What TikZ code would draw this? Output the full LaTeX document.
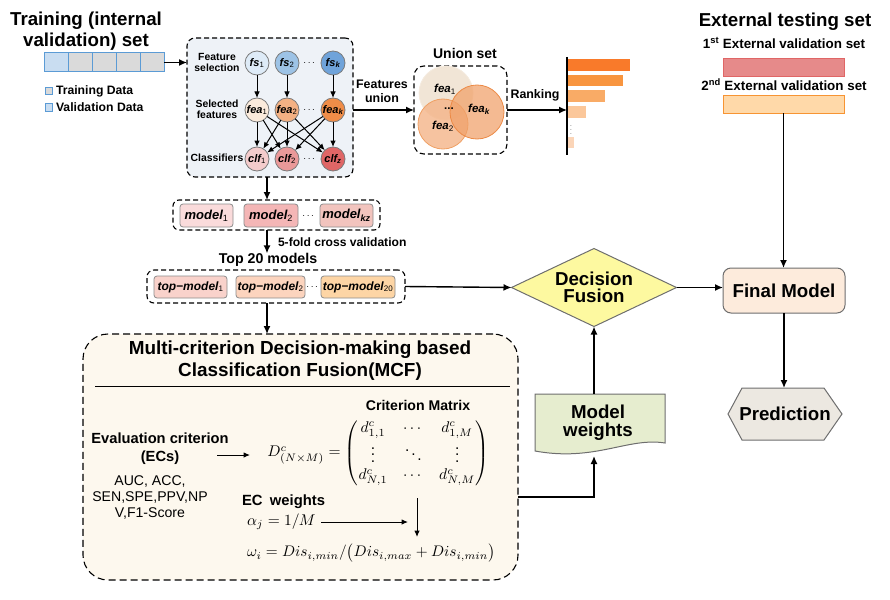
\documentclass[tikz,border=0pt]{standalone}
\usepackage{amsmath}
\usepackage{graphicx}
\usepackage[no-math]{fontspec}
\setmainfont{Liberation Sans}
\usetikzlibrary{arrows.meta,shapes.geometric,calc}
\newcommand{\myfs}[2]{\fontsize{#1}{#2}\selectfont}
\newcommand{\sbn}[1]{\textsubscript{\mdseries\upshape #1}}
\newcommand{\sbl}[1]{\textsubscript{#1}}
\definecolor{dblue}{HTML}{5B9BD5}
\definecolor{vblue}{HTML}{C9DDF1}
\definecolor{cgrayfill}{HTML}{DADADA}
\definecolor{fsfill}{HTML}{EEF2F7}
\definecolor{cgray}{HTML}{7A7A7A}
\definecolor{fsa}{HTML}{DEEBF7}
\definecolor{fsb}{HTML}{9DC3E6}
\definecolor{fsc}{HTML}{6FA3DA}
\definecolor{fea}{HTML}{FBEBDC}
\definecolor{feb}{HTML}{F4B183}
\definecolor{fec}{HTML}{F08D48}
\definecolor{cla}{HTML}{F4CCCC}
\definecolor{clb}{HTML}{EA9999}
\definecolor{clc}{HTML}{E06666}
\definecolor{uac}{HTML}{F1E5D6}
\definecolor{uab}{HTML}{F5EBDF}
\definecolor{ubc}{HTML}{F4B488}
\definecolor{ubb}{HTML}{EFA064}
\definecolor{ukc}{HTML}{F0A068}
\definecolor{ukb}{HTML}{EC8A46}
\definecolor{rba}{HTML}{F97A2A}
\definecolor{rbb}{HTML}{F8953F}
\definecolor{rbc}{HTML}{F9AB66}
\definecolor{rbd}{HTML}{FBC79A}
\definecolor{rbe}{HTML}{FBD5B8}
\definecolor{eac}{HTML}{E68A8A}
\definecolor{eab}{HTML}{E06666}
\definecolor{ebc}{HTML}{FFD9A9}
\definecolor{ebb}{HTML}{F79433}
\definecolor{mgray}{HTML}{8C8C8C}
\definecolor{mac}{HTML}{FADBDB}
\definecolor{mbc}{HTML}{F4B6B6}
\definecolor{mcc}{HTML}{F2C4BE}
\definecolor{tac}{HTML}{F9D2CB}
\definecolor{tbc}{HTML}{FCD4BE}
\definecolor{tcc}{HTML}{FDD5A5}
\definecolor{mcffill}{HTML}{FDF8EE}
\definecolor{mwc}{HTML}{E6EDCF}
\definecolor{dfc}{HTML}{FDF9A0}
\definecolor{fmc}{HTML}{FDEBDC}
\definecolor{prc}{HTML}{ECE8E1}
\definecolor{shgray}{HTML}{6E6E6E}
\begin{document}
\begin{tikzpicture}[x=1pt,y=-1pt,
  every node/.style={inner sep=0pt,outer sep=0pt},
  conn/.style={line width=1.4pt,-{Latex[length=8pt,width=7pt]}},
  thinconn/.style={line width=1pt,-{Latex[length=6.5pt,width=5.5pt]}},
  dbox/.style={draw=black,line width=1.1pt,dash pattern=on 5pt off 3pt,rounded corners=8pt},
  fc/.style={circle,draw=cgray,line width=0.8pt,minimum size=24pt,font=\myfs{11}{12}\bfseries\itshape},
  lblf/.style={font=\myfs{10.4}{10.6}\bfseries,align=center},
  mb/.style={draw=mgray,line width=0.8pt,rounded corners=3pt,font=\myfs{13}{14}\bfseries\itshape},
  tb/.style={draw=mgray,line width=0.8pt,rounded corners=3pt,font=\myfs{12}{13}\bfseries\itshape},
  bigt/.style={font=\myfs{18.7}{21}\bfseries,align=center},
]
\useasboundingbox (0,0) rectangle (890,599);

% ---------- training set ----------
\node[bigt] (ttl) at (86,31) {Training (internal\\validation) set};
\node[draw=dblue,fill=cgrayfill,line width=1pt,minimum width=120,minimum height=19] (data) at (104,62.5) {};
\fill[vblue] (data.north west) rectangle ++(24,19);
\foreach \i in {1,...,4} \draw[dblue,line width=1pt] ($(data.north west)+(24*\i,0)$) -- ++(0,19);
\draw[dblue,line width=1pt] (data.north west) rectangle (data.south east);
\node[draw=dblue,fill=cgrayfill,line width=0.8pt,minimum size=7.5] (lg1) at (49,91) {};
\node[font=\myfs{12.2}{14}\bfseries,anchor=west] (lg1t) at (56,91) {Training Data};
\node[draw=dblue,fill=vblue,line width=0.8pt,minimum size=7.5] (lg2) at (49,107.5) {};
\node[font=\myfs{12.2}{14}\bfseries,anchor=west] (lg2t) at (56,107.5) {Validation Data};

% ---------- feature box ----------
\node[dbox,fill=fsfill,minimum width=166,minimum height=139] (fsbox) at (270,107.5) {};
\draw[conn] (data.east) -- (data.east -| fsbox.west);
\node[lblf] (lfs) at (217,62.5) {Feature\\selection};
\node[lblf] (lfe) at (217,109) {Selected\\features};
\node[lblf] (lcl) at (217,158) {Classifiers};
\node[fc,fill=fsa] (fs1) at (257,63) {fs\sbn{1}};
\node[fc,fill=fsb] (fs2) at (287,63) {fs\sbn{2}};
\node[fc,fill=fsc] (fsk) at (333,63) {fs\sbl{k}};
\node[fc,fill=fea] (fea1) at (257,110) {fea\sbn{1}};
\node[fc,fill=feb] (fea2) at (287,110) {fea\sbn{2}};
\node[fc,fill=fec] (feak) at (333,110) {fea\sbl{k}};
\node[fc,fill=cla] (clf1) at (257,159) {clf\sbn{1}};
\node[fc,fill=clb] (clf2) at (287,159) {clf\sbn{2}};
\node[fc,fill=clc] (clfz) at (333,159) {clf\sbl{z}};
\node (d1) at (310,63) {$\cdots$};
\node (d2) at (310,110) {$\cdots$};
\node (d3) at (310,159) {$\cdots$};
\draw[thinconn] (fs1) -- (fea1);
\draw[thinconn] (fs2) -- (fea2);
\draw[thinconn] (fsk) -- (feak);
\foreach \a in {fea1,fea2,feak} \foreach \b in {clf1,clf2,clfz} \draw[thinconn] (\a) -- (\b);

% ---------- union ----------
\node[font=\myfs{12.4}{14}\bfseries,align=center] (fu) at (382,91) {Features\\union};
\node[font=\myfs{14}{16}\bfseries] (unt) at (465,53) {Union set};
\node[dbox,rounded corners=10pt,minimum width=93,minimum height=88] (union) at (460.5,110) {};
\node[circle,minimum size=54,fill=uac,draw=uab,line width=0.8pt] (u1) at (446,93) {};
\node[circle,minimum size=50,fill=ubc,fill opacity=0.8,draw=ubb,line width=0.8pt] (u2) at (443,124) {};
\node[circle,minimum size=54,fill=ukc,fill opacity=0.72,draw=ukb,line width=0.8pt] (uk) at (477,112) {};
\node[font=\myfs{11.5}{12}\bfseries\itshape] (ul1) at (445,89) {fea\sbn{1}};
\node[font=\myfs{11.5}{12}\bfseries\itshape] (ul2) at (443,126) {fea\sbn{2}};
\node[font=\myfs{11.5}{12}\bfseries\itshape] (ulk) at (479,109) {fea\sbl{k}};
\node[font=\myfs{11.5}{12}\bfseries] (uld) at (449,109) {...};
\draw[conn] (union.west -| fsbox.east) -- (union.west);

% ---------- ranking ----------
\coordinate (axis) at (567,110);
\node[font=\myfs{12.4}{14}\bfseries] (rk) at (535,95) {Ranking};
\draw[conn] (union.east) -- (axis);
\node[anchor=north west,fill=rba,minimum width=63,minimum height=11.5] (rb1) at (567,59.3) {};
\node[anchor=north west,fill=rbb,minimum width=56,minimum height=11.5] (rb2) at (567,75) {};
\node[anchor=north west,fill=rbc,minimum width=38,minimum height=11.5] (rb3) at (567,90.5) {};
\node[anchor=north west,fill=rbd,minimum width=19,minimum height=11.5] (rb4) at (567,106) {};
\node[anchor=north west,fill=rbe,minimum width=7,minimum height=11] (rb5) at (567,137) {};
\node[text=gray,font=\myfs{8}{8}] (rbdots) at (571,127) {$\vdots$};
\draw[line width=1.5pt] (567,57) -- (567,155);

% ---------- external ----------
\node[bigt] (extt) at (785,22) {External testing set};
\node[font=\myfs{13.4}{15}\bfseries] (e1t) at (784,43) {1\textsuperscript{st} External validation set};
\node[draw=eab,fill=eac,line width=1pt,minimum width=121,minimum height=18.4] (ext1) at (783.5,67.5) {};
\node[font=\myfs{13.4}{15}\bfseries] (e2t) at (784,85) {2\textsuperscript{nd} External validation set};
\node[draw=ebb,fill=ebc,line width=1pt,minimum width=121,minimum height=17.6] (ext2) at (783.5,104.5) {};

% ---------- models ----------
\coordinate (spine) at (267,0);
\node[dbox,rounded corners=6pt,minimum width=207,minimum height=30] (mbox) at (276.5,215) {};
\node[mb,fill=mac,minimum width=53,minimum height=23] (m1) at (206.5,215.5) {model\sbn{1}};
\node[mb,fill=mbc,minimum width=54,minimum height=23] (m2) at (271,215.5) {model\sbn{2}};
\node[mb,fill=mcc,minimum width=53,minimum height=23] (mkz) at (346.5,215.5) {model\sbl{kz}};
\node (md) at (309,216) {$\cdots$};
\draw[conn] (spine |- fsbox.south) -- (spine |- mbox.north);
\node[font=\myfs{12.1}{14}\bfseries,anchor=west] (cv) at (278,242.5) {5-fold cross validation};
\node[font=\myfs{14.2}{16}\bfseries] (t20t) at (268,260) {Top 20 models};
\draw[conn] (spine |- mbox.south) -- (spine |- t20t.north);
\node[dbox,rounded corners=7pt,minimum width=258,minimum height=33] (t20box) at (276,286.5) {};
\node[tb,fill=tac,minimum width=73,minimum height=22] (tm1) at (190.5,287) {top−model\sbn{1}};
\node[tb,fill=tbc,minimum width=69,minimum height=22] (tm2) at (270.5,287) {top−model\sbn{2}};
\node[tb,fill=tcc,minimum width=74,minimum height=22] (tm20) at (358,287) {top−model\sbn{20}};
\node (td) at (313,287) {$\cdots$};

% ---------- MCF ----------
\node[draw=black,line width=1.1pt,dash pattern=on 7pt off 4pt,rounded corners=25pt,fill=mcffill,minimum width=435,minimum height=246] (mcf) at (300.5,457) {};
\draw[conn] (spine |- t20box.south) -- (spine |- mcf.north);
\node[font=\myfs{18.9}{22}\bfseries,align=center] (mcft) at (300,361) {Multi-criterion Decision-making based\\Classification Fusion(MCF)};
\draw[line width=1pt] (95,386.7) -- (510,386.7);
\node[font=\myfs{14.1}{16}\bfseries] (cmt) at (418,405) {Criterion Matrix};
\node[font=\myfs{14.7}{18}\bfseries,align=center] (ec) at (160,449) {Evaluation criterion\\(ECs)};
\node (dmat) at (378,453) {\scalebox{1.55}{$\renewcommand{\arraystretch}{0.95}D^{c}_{(N\times M)}=\begin{pmatrix} d^{c}_{1,1} & \cdots & d^{c}_{1,M}\\ \vdots & \ddots & \vdots\\ d^{c}_{N,1} & \cdots & d^{c}_{N,M}\end{pmatrix}$}};
\coordinate (ea1) at (217,455);
\coordinate (ea2) at (250,455);
\draw[thinconn] (ea1) -- (ea2);
\node[font=\myfs{14.1}{16},align=center] (ecl) at (150,497) {AUC, ACC,\\SEN,SPE,PPV,NP\\V,F1-Score};
\node[font=\myfs{14.8}{16}\bfseries,anchor=west] (ecw) at (242,502) {EC\hspace{0.5em}weights};
\node[anchor=west] (alpha) at (247,522) {\scalebox{1.55}{$\alpha_j = 1/M$}};
\coordinate (aend) at (408,522);
\draw[thinconn] ([xshift=6]alpha.east) -- (aend);
\coordinate (dd1) at (417,498);
\coordinate (dd2) at (417,537);
\draw[thinconn] (dd1) -- (dd2);
\node[anchor=west] (omega) at (247,553) {\scalebox{1.53}{$\omega_i = Dis_{i,min}/\bigl(Dis_{i,max}+Dis_{i,min}\bigr)$}};

% ---------- decision / final ----------
\node[diamond,draw=shgray,fill=dfc,line width=1pt,minimum width=165,minimum height=78,aspect=2.1,align=center,font=\myfs{18.7}{17.5}\bfseries] (df) at (594,287.5) {Decision\\Fusion};
\draw[conn] (t20box.east) -- (df.west);
\draw[draw=shgray,fill=mwc,line width=1pt] (535,394) -- (665,394) -- (665,443) .. controls (628,437) and (595,462) .. (535,451) -- cycle;
\node[font=\myfs{18.7}{18}\bfseries,align=center] (mw) at (598,423) {Model\\weights};
\coordinate (mwtop) at (594,394);
\coordinate (mwbot) at (594,456);
\draw[conn] (mwtop) -- (df.south);
\coordinate (mcfout) at ($(mcf.east)+(0,40)$);
\draw[conn] (mcfout) -| (mwbot);
\node[draw=shgray,fill=fmc,line width=1pt,rounded corners=8pt,minimum width=122,minimum height=45,font=\myfs{18.7}{20}\bfseries] (fm) at (784,290.5) {Final Model};
\draw[conn] (df.east) -- (df.east -| fm.west);
\draw[conn] (ext2.south) -- (ext2.south |- fm.north);
\draw[draw=shgray,fill=prc,line width=1pt] (728,414) -- (742,388) -- (824,388) -- (842,414) -- (824,440) -- (742,440) -- cycle;
\node[minimum width=114,minimum height=52,font=\myfs{18.7}{20}\bfseries] (pred) at (785,414) {Prediction};
\draw[conn] (fm.south) -- (fm.south |- pred.north);
\end{tikzpicture}
\end{document}
